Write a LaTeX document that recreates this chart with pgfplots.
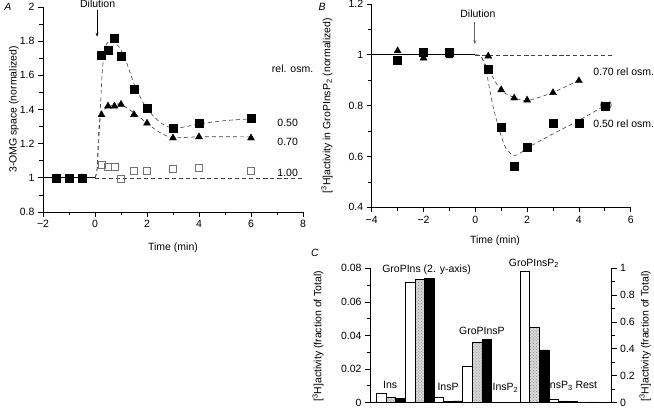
\documentclass[border=0pt]{standalone}
\usepackage{fontspec}
\setmainfont{Liberation Sans}
\usepackage{pgfplots}
\pgfplotsset{compat=1.18}
\usetikzlibrary{arrows.meta,patterns}

\newcommand{\fs}{\fontsize{10.5bp}{12bp}\selectfont}

\pgfplotsset{
  panel/.style={
    scale only axis, anchor=south west,
    axis x line*=bottom, axis y line*=left,
    tick align=outside, major tick length=5bp, minor tick length=3.5bp,
    tick style={black, line width=0.7bp},
    axis line style={line width=0.8bp},
    every tick label/.append style={font=\fs},
    label style={font=\fs},
    clip=false,
    minor x tick num=1, minor y tick num=1,
    scaled ticks=false,
    /pgf/number format/assume math mode=true,
  },
  fit/.style={black!75, dash pattern=on 4bp off 3bp, line width=0.6bp, smooth, tension=0.5, mark=none},
  base/.style={black, line width=0.7bp, mark=none},
  fsq/.style={only marks, mark=square*, mark size=4bp, black},
  ftr/.style={only marks, mark=triangle*, mark size=4bp, black},
  osq/.style={only marks, mark=square, mark size=3.6bp, black!55, mark options={line width=0.6bp}},
  barw/.style={ybar, bar width=0.3333, bar shift=-0.3333, fill=white, draw=black, line width=0.6bp},
  barg/.style={ybar, bar width=0.3333, bar shift=0, fill=gray!30, postaction={pattern=crosshatch dots, pattern color=black!45}, draw=black, line width=0.6bp},
  barb/.style={ybar, bar width=0.3333, bar shift=0.3333, fill=black, draw=black, line width=0.6bp},
}

\begin{document}
\begin{tikzpicture}
\useasboundingbox (0,0) rectangle (654bp,408bp);

% ---------------- Panel A ----------------
\begin{axis}[panel, at={(43bp,196bp)}, width=260bp, height=205bp,
  xmin=-2, xmax=8, ymin=0.8, ymax=2,
  xtick={-2,0,2,4,6,8}, xticklabels={−2,0,2,4,6,8},
  ytick={0.8,1,1.2,1.4,1.6,1.8,2}, yticklabels={0.8,1,1.2,1.4,1.6,1.8,2},
  xlabel={Time (min)}, ylabel={3-OMG space (normalized)},
  xlabel style={at={(axis description cs:0.5,-0.176)}, anchor=center},
  ylabel style={at={(axis description cs:-0.112,0.5)}, anchor=center},
]
\addplot[base] coordinates {(-2,1) (0,1)};
\addplot[fit] coordinates {(0,1) (8,1)};
\addplot[fit] coordinates {(0,1) (0.08,1.05) (0.15,1.23) (0.22,1.45) (0.28,1.62) (0.35,1.73) (0.45,1.785) (0.6,1.80) (0.8,1.785) (1.0,1.75) (1.25,1.66) (1.5,1.55) (1.75,1.47) (2.0,1.405) (2.5,1.325) (3.0,1.29) (3.5,1.30) (4.0,1.315) (5.0,1.335) (6.0,1.345)};
\addplot[fit] coordinates {(0,1) (0.08,1.05) (0.13,1.25) (0.2,1.35) (0.3,1.39) (0.5,1.415) (0.8,1.43) (1.0,1.43) (1.5,1.38) (2.0,1.32) (2.5,1.265) (3.0,1.235) (4.0,1.24) (6.0,1.24)};
\addplot[osq] coordinates {(0.25,1.076) (0.5,1.066) (0.75,1.064) (1.0,0.995) (1.5,1.04) (2.0,1.04) (3.0,1.053) (4.0,1.06) (6.0,1.04)};
\addplot[ftr] coordinates {(-1.5,1.0) (-1.0,0.995) (-0.5,1.0) (0.25,1.369) (0.5,1.42) (0.75,1.42) (1.0,1.43) (1.5,1.37) (2.0,1.32) (3.0,1.233) (4.0,1.24) (6.0,1.233)};
\addplot[fsq] coordinates {(-1.5,1.0) (-1.0,0.995) (-0.5,1.0) (0.23,1.718) (0.49,1.747) (0.74,1.815) (1.0,1.714) (1.5,1.52) (2.0,1.405) (3.0,1.29) (4.0,1.32) (6.0,1.347)};
\draw[-{Stealth[length=4bp,width=3bp]}, line width=0.6bp] (axis cs:0.08,1.98) -- (axis cs:0.08,1.826);
\node[font=\fs] at (axis cs:0.1,2.02) {Dilution};
\node[font=\fs] at (axis cs:7.6,1.64) {rel. osm.};
\node[font=\fs] at (axis cs:7.41,1.32) {0.50};
\node[font=\fs] at (axis cs:7.41,1.212) {0.70};
\node[font=\fs] at (axis cs:7.41,1.031) {1.00};
\end{axis}
\node[font=\fs\itshape] at (8bp,401bp) {A};

% ---------------- Panel B ----------------
\begin{axis}[panel, at={(371.7bp,200.7bp)}, width=259bp, height=203.3bp,
  xmin=-4, xmax=6, ymin=0.4, ymax=1.2,
  xtick={-4,-2,0,2,4,6}, xticklabels={−4,−2,0,2,4,6},
  ytick={0.4,0.6,0.8,1,1.2}, yticklabels={0.4,0.6,0.8,1,1.2},
  xlabel={Time (min)}, ylabel={[\textsuperscript{3}H]activity in GroPInsP\textsubscript{2} (normalized)},
  xlabel style={at={(axis description cs:0.476,-0.164)}, anchor=center},
  ylabel style={at={(axis description cs:-0.173,0.5)}, anchor=center},
]
\addplot[base] coordinates {(-4,1) (0,1)};
\addplot[fit] coordinates {(0,1) (5.27,1)};
\addplot[fit] coordinates {(0,1) (0.2,0.995) (0.4,0.96) (0.63,0.92) (1.0,0.86) (1.5,0.832) (2.0,0.82) (3.0,0.852) (4.0,0.9)};
\addplot[fit] coordinates {(0,1) (0.25,0.99) (0.44,0.925) (0.69,0.795) (1.0,0.68) (1.2,0.63) (1.45,0.605) (1.7,0.61) (2.0,0.633) (3.0,0.689) (4.0,0.742) (5.0,0.8)};
\addplot[ftr] coordinates {(-3,1.016) (-2,0.987) (-1,0.996) (0.5,0.995) (1.0,0.862) (1.5,0.83) (2.0,0.822) (3.0,0.851) (4.0,0.898)};
\addplot[fsq] coordinates {(-3,0.979) (-2,1.009) (-1,1.012) (0.5,0.944) (1.0,0.715) (1.5,0.562) (2.0,0.635) (3.0,0.732) (4.0,0.731) (5.0,0.799)};
\node[font=\fontsize{8bp}{9bp}\selectfont] at (axis cs:5.05,0.799) {(\hspace{6.5bp})};
\draw[-{Stealth[length=4bp,width=3bp]}, line width=0.6bp, black!60] (axis cs:-0.02,1.131) -- (axis cs:-0.02,1.042);
\node[font=\fs] at (axis cs:0.1,1.161) {Dilution};
\node[font=\fs] at (axis cs:5.73,0.935) {0.70 rel osm.};
\node[font=\fs] at (axis cs:5.73,0.728) {0.50 rel osm.};
\end{axis}
\node[font=\fs\itshape] at (322bp,401bp) {B};

% ---------------- Panel C ----------------
\begin{axis}[panel, at={(370bp,5.5bp)}, width=241.7bp, height=134.2bp,
  xmin=-0.73, xmax=7.69, ymin=0, ymax=0.08,
  xtick=\empty, minor x tick num=0,
  ytick={0,0.02,0.04,0.06,0.08}, yticklabels={0,0.02,0.04,0.06,0.08},
  ylabel={[\textsuperscript{3}H]activity (fraction of Total)},
  ylabel style={at={(axis description cs:-0.215,0.494)}, anchor=center},
]
\addplot[barw] coordinates {(0,0.0055) (2,0.003) (3,0.0216) (4,0) (5,0.078) (6,0.0018) (7,0.0004)};
\addplot[barg] coordinates {(0,0.0031) (2,0.0008) (3,0.0358) (4,0) (5,0.045) (6,0.0009) (7,0.0003)};
\addplot[barb] coordinates {(0,0.0024) (2,0.001) (3,0.0377) (4,0) (5,0.0314) (6,0.0005) (7,0.0002)};
\node[font=\fs] at (axis cs:-0.03,0.0102) {Ins};
\node[font=\fs] at (axis cs:1.24,0.079) {GroPIns (2. y-axis)};
\node[font=\fs] at (axis cs:1.99,0.0093) {InsP};
\node[font=\fs] at (axis cs:3.17,0.0426) {GroPInsP};
\node[font=\fs] at (axis cs:3.99,0.0087) {InsP\textsubscript{2}};
\node[font=\fs] at (axis cs:4.98,0.083) {GroPInsP\textsubscript{2}};
\node[font=\fs] at (axis cs:6.31,0.010) {InsP\textsubscript{3} Rest};
\end{axis}
\begin{axis}[panel, at={(370bp,5.5bp)}, width=241.7bp, height=134.2bp,
  axis x line=none, axis y line*=right,
  xmin=-0.73, xmax=7.69, ymin=0, ymax=1,
  ytick={0,0.2,0.4,0.6,0.8,1}, yticklabels={0,0.2,0.4,0.6,0.8,1},
  ylabel={[\textsuperscript{3}H]activity (fraction of Total)},
  ylabel style={at={(axis description cs:1.138,0.494)}, anchor=center, rotate=0},
]
\addplot[barw] coordinates {(1,0.894)};
\addplot[barg] coordinates {(1,0.919)};
\addplot[barb] coordinates {(1,0.929)};
\end{axis}
\node[font=\fs\itshape] at (315bp,155bp) {C};
\end{tikzpicture}
\end{document}
